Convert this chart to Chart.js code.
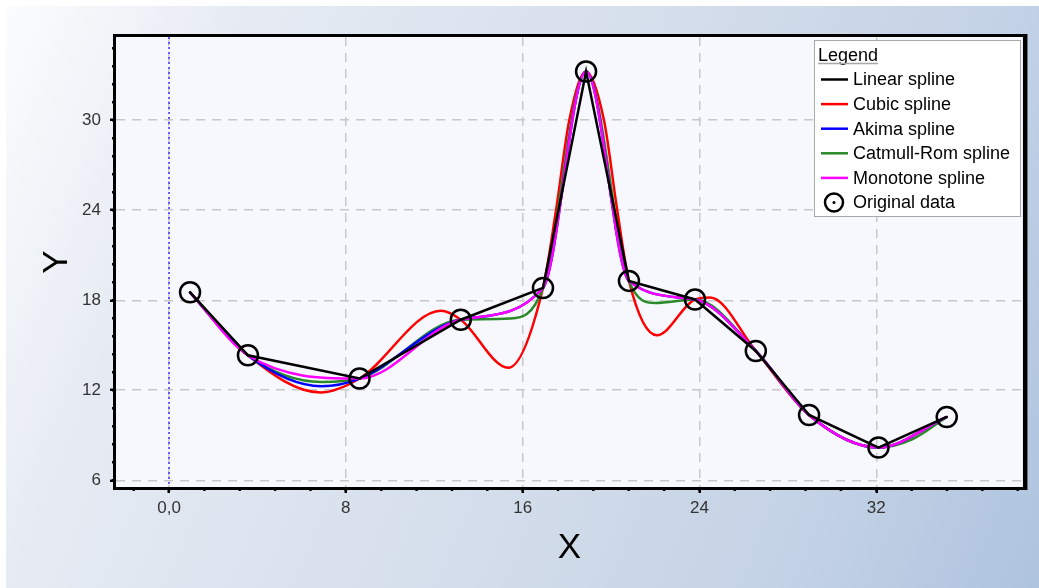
<!DOCTYPE html>
<html>
<head>
<meta charset="utf-8">
<title>Spline interpolation</title>
<script src="https://cdn.jsdelivr.net/npm/chart.js@4.4.1/dist/chart.umd.min.js"></script>
<style>
html, body { margin: 0; padding: 0; background: #fff; }
#wrap { position: relative; width: 1039px; height: 588px; overflow: hidden; }
#bg { position: absolute; left: 6px; top: 6px; right: 0; bottom: 0;
      background: linear-gradient(112deg, #fbfcfd 0%, #e6ebf3 19%, #cfdae9 62%, #c2d1e5 81%, #aec3de 100%); }
#myChart { position: absolute; left: 0; top: 0; }
</style>
</head>
<body>
<div id="wrap"><div id="bg"></div><canvas id="myChart" width="1039" height="588"></canvas></div>
<script>
// original data points
var xData = [0.95, 3.57, 8.62, 13.2, 16.92, 18.87, 20.81, 23.8, 26.55, 28.96, 32.1, 35.19];
var yData = [18.53, 14.33, 12.78, 16.7, 18.82, 33.25, 19.29, 18.05, 14.62, 10.35, 8.18, 10.22];

// cubic spline (data points + turning points)
var cubicX = [0.95, 3.57, 6.85, 8.62, 12.3, 13.2, 15.35, 16.92, 17.51, 18.11, 18.87, 19.68, 20.28, 20.81, 22.07, 23.8, 24.48, 26.55, 28.96, 32.1, 35.19];
var cubicY = [18.53, 14.33, 11.85, 12.78, 17.3, 16.7, 13.5, 18.82, 24, 30, 33.25, 30, 24, 19.29, 15.67, 18.05, 18.18, 14.62, 10.35, 8.18, 10.22];

// akima spline
var akimaX = [0.95, 3.57, 6.9, 8.62, 13.2, 16.92, 18.87, 20.81, 23.8, 26.55, 28.96, 32.1, 35.19];
var akimaY = [18.53, 14.33, 12.27, 12.78, 16.7, 18.82, 33.25, 19.29, 18.05, 14.62, 10.35, 8.18, 10.22];

// catmull-rom spline
var catmullX = [0.95, 3.57, 6.9, 8.62, 13.2, 15.4, 16.92, 18.87, 20.81, 22.0, 23.8, 26.55, 28.96, 32.1, 33.65, 35.19];
var catmullY = [18.53, 14.33, 12.55, 12.78, 16.7, 16.78, 18.82, 33.25, 19.29, 17.82, 18.05, 14.62, 10.35, 8.18, 8.75, 10.22];

var xTicks = [0, 8, 16, 24, 32];
var xTickLabels = ['0,0', '8', '16', '24', '32'];
var yTicks = [6, 12, 18, 24, 30];
var yTickLabels = ['6', '12', '18', '24', '30'];

var seriesNames = ['Linear spline', 'Cubic spline', 'Akima spline', 'Catmull-Rom spline', 'Monotone spline', 'Original data'];
var lineColors = ['#000000', '#ff0000', '#0000ff', '#2a8a2a', '#ff00ff'];

var FONT = "'Liberation Sans', Arial, sans-serif";

function pts(xs, ys) {
    return xs.map(function (x, i) { return {x: x, y: ys[i]}; });
}

// plot background, frame, minor ticks, zero line, titles and the legend box
var decor = {
    id: 'decor',
    beforeDraw: function (chart) {
        var a = chart.chartArea, ctx = chart.ctx;
        ctx.save();
        ctx.fillStyle = '#f7f8fd';
        ctx.fillRect(a.left, a.top, a.right - a.left, a.bottom - a.top);
        ctx.restore();
    },
    beforeDatasetsDraw: function (chart) {
        var a = chart.chartArea, ctx = chart.ctx;
        var px = chart.scales.x.getPixelForValue(0);
        ctx.save();
        ctx.strokeStyle = '#3c3cff';
        ctx.lineWidth = 1.6;
        ctx.setLineDash([2, 3]);
        ctx.beginPath();
        ctx.moveTo(px, a.top);
        ctx.lineTo(px, a.bottom);
        ctx.stroke();
        ctx.restore();
    },
    afterDraw: function (chart) {
        var a = chart.chartArea, ctx = chart.ctx;
        var sx = chart.scales.x, sy = chart.scales.y;
        var v, p;
        ctx.save();

        // minor ticks
        ctx.strokeStyle = '#000';
        ctx.lineWidth = 2.5;
        ctx.beginPath();
        for (v = Math.ceil(sx.min / 1.6) * 1.6; v <= sx.max; v += 1.6) {
            p = sx.getPixelForValue(v);
            ctx.moveTo(p, a.bottom);
            ctx.lineTo(p, a.bottom + 4);
        }
        for (v = Math.ceil(sy.min / 1.2) * 1.2; v <= sy.max; v += 1.2) {
            p = sy.getPixelForValue(v);
            ctx.moveTo(a.left, p);
            ctx.lineTo(a.left - 4, p);
        }
        ctx.stroke();

        // frame
        ctx.lineWidth = 3;
        ctx.beginPath();
        ctx.moveTo(a.right, a.top - 1.5);
        ctx.lineTo(a.left - 1.5, a.top - 1.5);
        ctx.lineTo(a.left - 1.5, a.bottom + 1.5);
        ctx.lineTo(a.right, a.bottom + 1.5);
        ctx.stroke();
        ctx.lineWidth = 4.5;
        ctx.beginPath();
        ctx.moveTo(a.right + 2.2, a.top - 3);
        ctx.lineTo(a.right + 2.2, a.bottom + 3);
        ctx.stroke();

        // axis titles
        ctx.fillStyle = '#000';
        ctx.font = '35px ' + FONT;
        ctx.textAlign = 'center';
        ctx.textBaseline = 'middle';
        ctx.fillText('X', (a.left + a.right) / 2, 548);
        ctx.translate(57, 262);
        ctx.rotate(-Math.PI / 2);
        ctx.fillText('Y', 0, 0);
        ctx.setTransform(1, 0, 0, 1, 0, 0);

        // legend box
        var lx = 814.5, ly = 40.5, lw = 206, lh = 176;
        ctx.fillStyle = '#ffffff';
        ctx.fillRect(lx, ly, lw, lh);
        ctx.strokeStyle = '#a8a8a8';
        ctx.lineWidth = 1;
        ctx.strokeRect(lx, ly, lw, lh);

        ctx.fillStyle = '#000';
        ctx.font = '18px ' + FONT;
        ctx.textAlign = 'left';
        ctx.textBaseline = 'alphabetic';
        ctx.fillText('Legend', 818, 61);
        var tw = ctx.measureText('Legend').width;
        ctx.lineWidth = 1.3;
        ctx.beginPath();
        ctx.moveTo(818, 63.5);
        ctx.lineTo(818 + tw, 63.5);
        ctx.stroke();

        ctx.textBaseline = 'middle';
        for (var i = 0; i < seriesNames.length; i++) {
            var y = 79.5 + 24.6 * i;
            if (i < lineColors.length) {
                ctx.strokeStyle = lineColors[i];
                ctx.lineWidth = 2.5;
                ctx.beginPath();
                ctx.moveTo(821, y);
                ctx.lineTo(848, y);
                ctx.stroke();
            } else {
                ctx.strokeStyle = '#000';
                ctx.lineWidth = 2.5;
                ctx.beginPath();
                ctx.arc(834, y, 9, 0, Math.PI * 2);
                ctx.stroke();
                ctx.beginPath();
                ctx.arc(834, y, 1.5, 0, Math.PI * 2);
                ctx.fill();
            }
            ctx.fillStyle = '#000';
            ctx.fillText(seriesNames[i], 853, y + 1);
        }
        ctx.restore();
    }
};

var ctx = document.getElementById('myChart').getContext('2d');
var chart = new Chart(ctx, {
    type: 'line',
    data: {
        datasets: [
            {label: seriesNames[0], data: pts(xData, yData), borderColor: lineColors[0], borderWidth: 2.5, tension: 0, pointRadius: 0, order: 2},
            {label: seriesNames[1], data: pts(cubicX, cubicY), borderColor: lineColors[1], borderWidth: 2.5, cubicInterpolationMode: 'monotone', pointRadius: 0, order: 6},
            {label: seriesNames[2], data: pts(akimaX, akimaY), borderColor: lineColors[2], borderWidth: 2.5, cubicInterpolationMode: 'monotone', pointRadius: 0, order: 4},
            {label: seriesNames[3], data: pts(catmullX, catmullY), borderColor: lineColors[3], borderWidth: 2.5, cubicInterpolationMode: 'monotone', pointRadius: 0, order: 5},
            {label: seriesNames[4], data: pts(xData, yData), borderColor: lineColors[4], borderWidth: 2.5, cubicInterpolationMode: 'monotone', pointRadius: 0, order: 3},
            {label: seriesNames[5], data: pts(xData, yData), showLine: false, pointRadius: 10, pointBorderWidth: 2.5,
             pointBorderColor: '#000', pointBackgroundColor: 'rgba(0,0,0,0)', order: 1},
            {label: '', data: pts(xData, yData), showLine: false, pointRadius: 1.3, pointBorderWidth: 0,
             pointBackgroundColor: '#000', order: 0}
        ]
    },
    options: {
        responsive: false,
        animation: false,
        events: [],
        layout: {padding: {left: 0, right: 16, top: 37, bottom: 0}},
        plugins: {legend: {display: false}, tooltip: {enabled: false}},
        scales: {
            x: {
                type: 'linear',
                min: -2.4,
                max: 38.64,
                afterFit: function (s) { s.height = 101; },
                afterBuildTicks: function (s) { s.ticks = xTicks.map(function (v) { return {value: v}; }); },
                ticks: {
                    padding: 5,
                    color: '#333',
                    font: {family: FONT, size: 17},
                    maxRotation: 0,
                    autoSkip: false,
                    callback: function (v, i) { return xTickLabels[i]; }
                },
                grid: {color: '#c8c8c8', lineWidth: 1.5, tickLength: 6, tickWidth: 2.5, tickColor: '#000', tickBorderDash: []},
                border: {display: false, dash: [9, 7]}
            },
            y: {
                type: 'linear',
                min: 5.55,
                max: 35.55,
                afterFit: function (s) { s.width = 116; },
                afterBuildTicks: function (s) { s.ticks = yTicks.map(function (v) { return {value: v}; }); },
                ticks: {
                    padding: 9,
                    color: '#333',
                    font: {family: FONT, size: 17},
                    autoSkip: false,
                    callback: function (v, i) { return yTickLabels[i]; }
                },
                grid: {color: '#c8c8c8', lineWidth: 1.5, tickLength: 6, tickWidth: 2.5, tickColor: '#000', tickBorderDash: []},
                border: {display: false, dash: [9, 7]}
            }
        }
    },
    plugins: [decor]
});
</script>
</body>
</html>
